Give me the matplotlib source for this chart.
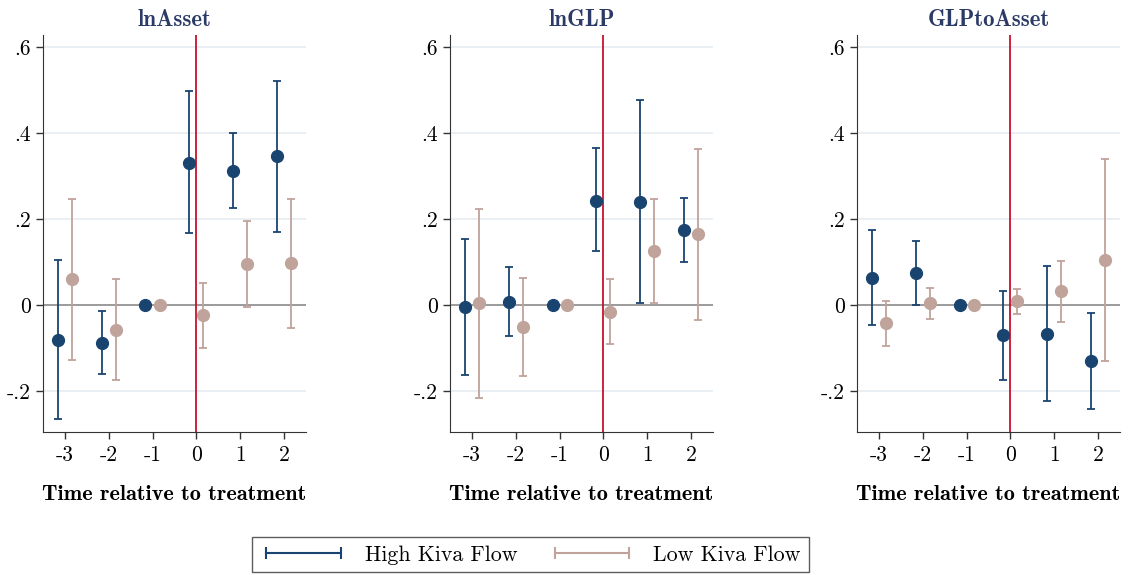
import matplotlib.pyplot as plt
from matplotlib.lines import Line2D
import numpy as np

plt.rcParams['font.family'] = ['cmr10', 'DejaVu Serif']
plt.rcParams['axes.unicode_minus'] = False

# event time
periods = [-3, -2, -1, 0, 1, 2]
titles = ['lnAsset', 'lnGLP', 'GLPtoAsset']

# High Kiva Flow: point, upper, lower
high_est = [[-0.080, -0.087, 0.0, 0.331, 0.313, 0.346],
            [-0.004, 0.008, 0.0, 0.243, 0.241, 0.174],
            [0.064, 0.074, 0.0, -0.070, -0.067, -0.130]]
high_hi = [[0.106, -0.013, 0.0, 0.498, 0.400, 0.522],
           [0.155, 0.088, 0.0, 0.365, 0.478, 0.249],
           [0.174, 0.150, 0.0, 0.034, 0.091, -0.018]]
high_lo = [[-0.265, -0.160, 0.0, 0.167, 0.226, 0.171],
           [-0.163, -0.072, 0.0, 0.126, 0.005, 0.100],
           [-0.046, 0.001, 0.0, -0.173, -0.224, -0.242]]

# Low Kiva Flow
low_est = [[0.060, -0.058, 0.0, -0.023, 0.095, 0.097],
           [0.005, -0.050, 0.0, -0.015, 0.126, 0.165],
           [-0.042, 0.005, 0.0, 0.009, 0.032, 0.105]]
low_hi = [[0.247, 0.061, 0.0, 0.052, 0.197, 0.247],
          [0.224, 0.064, 0.0, 0.062, 0.247, 0.364],
          [0.010, 0.040, 0.0, 0.038, 0.103, 0.340]]
low_lo = [[-0.128, -0.175, 0.0, -0.099, -0.004, -0.053],
          [-0.215, -0.164, 0.0, -0.091, 0.005, -0.034],
          [-0.095, -0.031, 0.0, -0.020, -0.040, -0.130]]

c_high = '#1a4470'
c_low = '#c0a39b'
c_red = '#c8102e'
c_title = '#2b3a67'

fig = plt.figure(figsize=(11.29, 5.75), dpi=100)
lefts = [0.038, 0.3986, 0.759]
x = np.array(periods, dtype=float)

for k in range(3):
    ax = fig.add_axes([lefts[k], 0.2487, 0.233, 0.690])
    ax.set_xlim(-3.5, 2.5)
    ax.set_ylim(-0.295, 0.628)
    for yv in [-0.2, 0.2, 0.4, 0.6]:
        ax.axhline(yv, color='#e8eef2', lw=1.3, zorder=0)
    ax.axhline(0, color='#808080', lw=1.1, zorder=1)
    ax.axvline(0, color=c_red, lw=1.3, zorder=1)

    for est, hi, lo, col, off in [(high_est[k], high_hi[k], high_lo[k], c_high, -0.16),
                                   (low_est[k], low_hi[k], low_lo[k], c_low, 0.16)]:
        est = np.array(est); hi = np.array(hi); lo = np.array(lo)
        ax.errorbar(x + off, est, yerr=[est - lo, hi - est], fmt='none',
                    ecolor=col, elinewidth=1.3, capsize=3, capthick=1.3, zorder=2)
        ax.plot(x + off, est, 'o', color=col, ms=8.5, zorder=3)

    ax.set_xticks(periods)
    ax.set_xticklabels([str(p) for p in periods])
    ax.set_yticks([-0.2, 0, 0.2, 0.4, 0.6])
    ax.set_yticklabels(['-.2', '0', '.2', '.4', '.6'])
    ax.tick_params(direction='out', length=5, width=1, labelsize=15.5, color='#333333')
    ax.tick_params(axis='x', pad=5)
    ax.spines['top'].set_visible(False)
    ax.spines['right'].set_visible(False)
    ax.spines['left'].set_color('#333333')
    ax.spines['bottom'].set_color('#333333')
    ax.set_title(titles[k], fontfamily='cmb10', fontsize=16.5, color=c_title, pad=7)
    ax.set_xlabel('Time relative to treatment', fontfamily='cmb10', fontsize=16, labelpad=14)

handles = [Line2D([0, 1], [0, 0], color=c_high, lw=1.5, marker='|', ms=9, mew=1.5),
           Line2D([0, 1], [0, 0], color=c_low, lw=1.5, marker='|', ms=9, mew=1.5)]
fig.legend(handles, ['High Kiva Flow', 'Low Kiva Flow'], loc='center',
           bbox_to_anchor=(0.4695, 0.035), ncol=2, numpoints=2, fontsize=15.8,
           frameon=True, fancybox=False, edgecolor='#333333', handlelength=4.0,
           handletextpad=0.8, columnspacing=1.4, borderpad=0.35, borderaxespad=0)

fig.savefig('out.png', dpi=100)
